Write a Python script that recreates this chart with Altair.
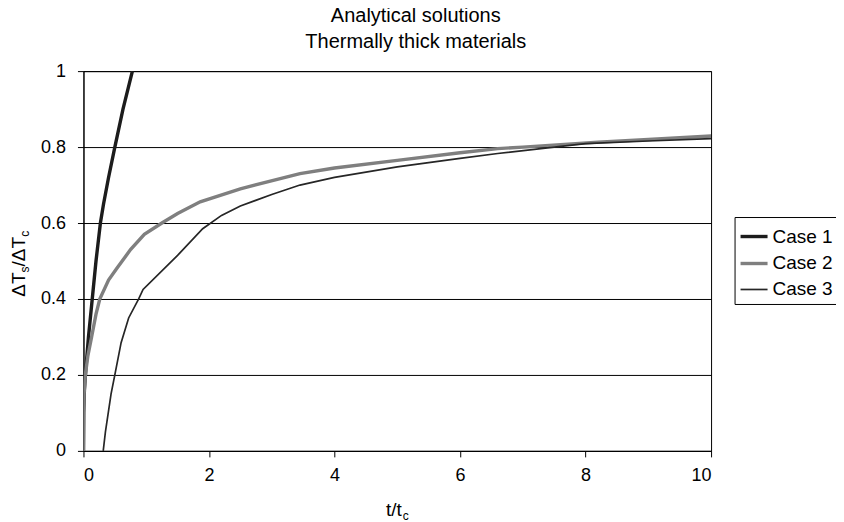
import altair as alt
import pandas as pd

# ---- data ----
series_names = ["Case 1", "Case 2", "Case 3"]

case1_t = [0.0, 0.004, 0.015, 0.04, 0.08, 0.14, 0.2, 0.27, 0.32, 0.4, 0.5, 0.63, 0.78]
case1_v = [0.0, 0.1, 0.16, 0.22, 0.3, 0.4, 0.5, 0.6, 0.65, 0.72, 0.8, 0.9, 1.0]

case2_t = [0.0, 0.003, 0.01, 0.03, 0.07, 0.13, 0.2, 0.26, 0.4, 0.53, 0.75, 0.97, 1.25, 1.5,
           1.86, 2.5, 3.45, 4.0, 5.0, 6.0, 6.6, 7.0, 8.2, 9.0, 10.0]
case2_v = [0.0, 0.1, 0.15, 0.2, 0.25, 0.3, 0.36, 0.4, 0.45, 0.48, 0.53, 0.57, 0.6, 0.625,
           0.656, 0.69, 0.73, 0.745, 0.765, 0.785, 0.796, 0.80, 0.813, 0.82, 0.829]

case3_t = [0.315, 0.35, 0.395, 0.44, 0.5, 0.6, 0.72, 0.88, 0.95, 1.5, 1.9, 2.2, 2.5, 3.0,
           3.45, 4.0, 5.0, 6.0, 6.6, 7.5, 8.0, 9.0, 10.0]
case3_v = [0.0, 0.05, 0.1, 0.15, 0.2, 0.285, 0.35, 0.4, 0.425, 0.515, 0.585, 0.62, 0.645, 0.675,
           0.70, 0.72, 0.748, 0.77, 0.783, 0.80, 0.809, 0.816, 0.822]

x_ticks = [0, 2, 4, 6, 8, 10]
y_ticks = [0, 0.2, 0.4, 0.6, 0.8, 1.0]

title_lines = ["Analytical solutions", "Thermally thick materials"]

# ---- build table ----
rows = []
for name, ts, vs in [("Case 1", case1_t, case1_v),
                     ("Case 2", case2_t, case2_v),
                     ("Case 3", case3_t, case3_v)]:
    for t, v in zip(ts, vs):
        rows.append({"t": t, "v": v, "case": name})
df = pd.DataFrame(rows)

FONT = "Liberation Sans"
colors = ["#1c1c1c", "#7f7f7f", "#262626"]
widths = [3.4, 3.4, 1.7]

legend_kw = dict(
    title=None, orient="none", legendX=651.5, legendY=146,
    symbolType="stroke", symbolSize=729, labelFont=FONT, labelFontSize=19,
    labelColor="black", strokeColor="black", padding=4, rowPadding=1,
    labelOffset=3, fillColor="white",
)

lines = alt.Chart(df).mark_line(clip=True).encode(
    x=alt.X("t:Q", scale=alt.Scale(domain=[0, 10], nice=False),
            axis=alt.Axis(values=x_ticks, title=None, grid=False, format="d")),
    y=alt.Y("v:Q", scale=alt.Scale(domain=[0, 1], nice=False),
            axis=alt.Axis(values=y_ticks, title=None, grid=True, format=".1~f",
                          gridColor="black", gridWidth=1, gridOpacity=1,
                          labelPadding=12)),
    color=alt.Color("case:N", scale=alt.Scale(domain=series_names, range=colors),
                    legend=alt.Legend(**legend_kw)),
    strokeWidth=alt.StrokeWidth("case:N",
                                scale=alt.Scale(type="ordinal", domain=series_names, range=widths),
                                legend=alt.Legend(**legend_kw)),
    order="t:Q",
)

dummy = pd.DataFrame({"a": [0]})

def label(txt, x, y, size, align="left", angle=0):
    return alt.Chart(dummy).mark_text(
        text=txt, font=FONT, fontSize=size, align=align, baseline="alphabetic",
        angle=angle, color="black"
    ).encode(x=alt.value(x), y=alt.value(y))

# y-axis title  ΔT_s/ΔT_c  (rotated)
ytitle = [
    label("ΔT", -58.8, 225.7, 19, angle=270),
    label("s", -54.9, 201.4, 12, angle=270),
    label("/ΔT", -58.8, 195.4, 19, angle=270),
    label("c", -54.9, 165.8, 12, angle=270),
]
# x-axis title  t/t_c
xtitle = [
    label("t/t", 318.5, 445.5, 19, align="right"),
    label("c", 319.5, 449.5, 12),
]

chart = alt.layer(lines, *ytitle, *xtitle).properties(
    width=628, height=380,
    autosize=alt.AutoSizeParams(type="none"),
    padding={"left": 75.5, "top": 63, "right": 125, "bottom": 71},
    title=alt.TitleParams(title_lines, font=FONT, fontSize=20, fontWeight="normal",
                          color="black", anchor="middle", dx=18.5, offset=10,
                          lineHeight=26),
).configure_view(
    stroke="black", strokeWidth=1
).configure_axis(
    labelFont=FONT, labelFontSize=18, labelColor="black",
    domainColor="black", domainWidth=1, tickColor="black", tickSize=6,
    labelPadding=9,
).configure_axisX(labelPadding=10)

chart.save("out.html", embed_options={"renderer": "svg", "actions": False})
